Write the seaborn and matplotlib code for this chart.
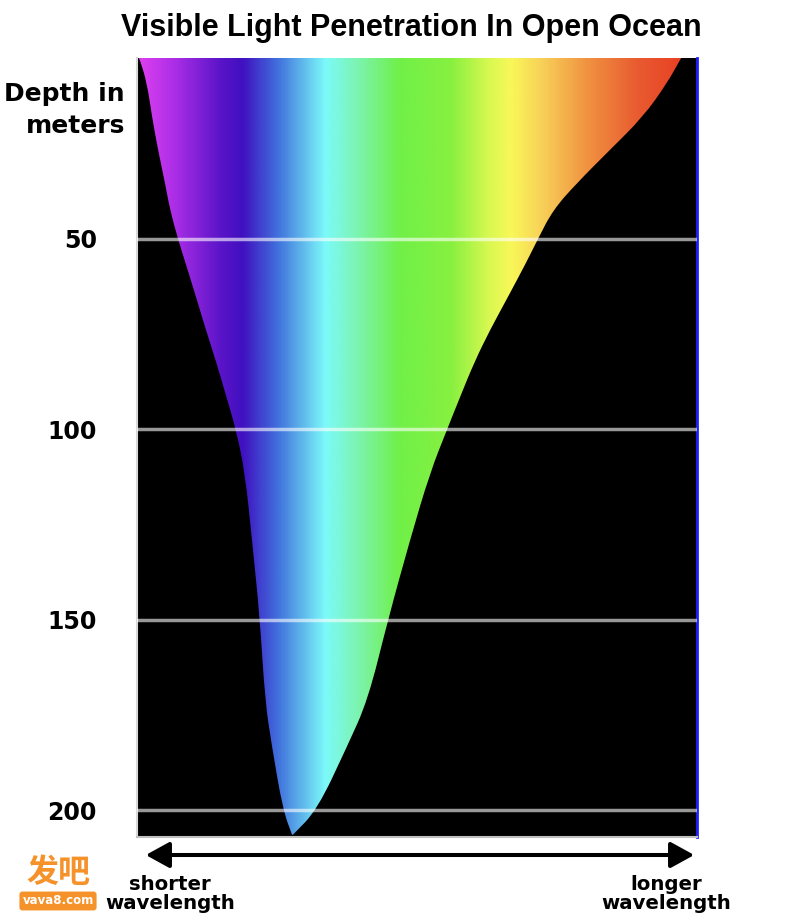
import numpy as np
import matplotlib
matplotlib.use("Agg")
import matplotlib.pyplot as plt
import seaborn as sns
from matplotlib.colors import LinearSegmentedColormap
from matplotlib.patches import PathPatch, FancyArrowPatch
from matplotlib.path import Path

# depth (m) at which the edges of the light cone were read
depth_m = [2.5, 3.0, 9.1, 18.0, 26.6, 35.3, 42.4, 50, 56.3, 65.2, 73.9,
           82.5, 91.5, 100.1, 111.4, 129, 150, 171, 183.3, 199.9, 206.4]
# wavelength (nm) of the short- and long-wavelength edge at each depth
short_edge_nm = [380.9, 381.7, 385.7, 388.6, 392, 396, 398.9, 403.4, 407.7,
                 413.7, 419.4, 425.4, 431.1, 436.6, 441.7, 445.7, 450.3,
                 453.1, 457.1, 463.4, 468.6]
long_edge_nm = [691, 690.3, 682.9, 669.1, 650.3, 631.4, 617.7, 609.1, 602.3,
                592, 581.7, 572.6, 564.6, 557.1, 547.4, 536, 523.4, 512, 500,
                482.9, 469.1]

depth_ticks = [50, 100, 150, 200]
depth_labels = ["50", "100", "150", "200"]

# spectrum colours along the wavelength axis
spec_nm = [380, 398.9, 427.4, 440, 460, 487.4, 505, 530, 560, 580, 594,
           612, 638.9, 667.4, 700]
spec_colors = ["#e040f0", "#b030e8", "#5a14c8", "#4010c0", "#4070dc",
               "#7cfafa", "#7cf4b4", "#70f048", "#88f040", "#d4f850",
               "#f8f858", "#f8d058", "#f09040", "#e85a30", "#e83820"]

sns.set_theme(style="white")
plt.rcParams['font.family'] = ['DejaVu Sans']
plt.rcParams['text.color'] = 'black'
plt.rcParams['ytick.color'] = 'black'
plt.rcParams['ytick.labelcolor'] = 'black'

x_min, x_max = 380, 700
d_top, d_bot = 2.5, 207

fig = plt.figure(figsize=(8, 9.23), dpi=100)
ax = fig.add_axes([137/800, 1-837/923, 560/800, 779/923])
ax.set_facecolor("black")

cmap = LinearSegmentedColormap.from_list(
    "spectrum", [((w - x_min) / (x_max - x_min), c) for w, c in zip(spec_nm, spec_colors)])
xs = np.linspace(x_min, x_max, 800)
im = ax.imshow(xs[None, :], cmap=cmap, vmin=x_min, vmax=x_max, aspect="auto",
               extent=[x_min, x_max, d_bot, d_top], interpolation="bilinear", zorder=1)


def smooth_edge(pts):
    # read points used as quadratic Bezier control points
    verts = [pts[0], ((pts[0][0] + pts[1][0]) / 2, (pts[0][1] + pts[1][1]) / 2)]
    codes = [Path.LINETO, Path.LINETO]
    for i in range(1, len(pts) - 1):
        nxt = ((pts[i][0] + pts[i + 1][0]) / 2, (pts[i][1] + pts[i + 1][1]) / 2)
        verts += [pts[i], nxt]
        codes += [Path.CURVE3, Path.CURVE3]
    verts.append(pts[-1])
    codes.append(Path.LINETO)
    return verts, codes


left_pts = list(zip(short_edge_nm, depth_m))
right_pts = list(zip(long_edge_nm[::-1], depth_m[::-1]))
lv, lc = smooth_edge(left_pts)
rv, rc = smooth_edge(right_pts)
verts = lv + rv + [left_pts[0]]
codes = [Path.MOVETO] + lc[1:] + rc + [Path.CLOSEPOLY]
cone = PathPatch(Path(verts, codes), facecolor="none", edgecolor="none", transform=ax.transData)
ax.add_patch(cone)
im.set_clip_path(cone)

for d in depth_ticks:
    ax.axhline(d, color="white", alpha=0.6, lw=2.5, zorder=3)

ax.set_xlim(x_min, x_max)
ax.set_ylim(d_bot, d_top)
ax.set_xticks([])
ax.set_yticks(depth_ticks)
ax.set_yticklabels(depth_labels, fontsize=17, fontweight="bold", color="black")
ax.tick_params(axis="y", length=0, pad=29)

ax.spines["top"].set_visible(False)
ax.spines["left"].set_color("#d8d8d8")
ax.spines["left"].set_linewidth(1.5)
ax.spines["bottom"].set_color("#c0c0c0")
ax.spines["bottom"].set_linewidth(1.5)
ax.spines["right"].set_color("#2020ff")
ax.spines["right"].set_linewidth(2)

fig.text(411/800, 1-28/923, "Visible Light Penetration In Open Ocean",
         ha="center", va="center", fontsize=22, fontweight="bold",
         family=["Liberation Sans Narrow", "Liberation Sans", "DejaVu Sans"])
fig.text(125/800, 1-110/923, "Depth in\nmeters", ha="right", va="center",
         fontsize=18, fontweight="bold", linespacing=1.4)

arrow = FancyArrowPatch((143/800, 1-855/923), (697/800, 1-855/923),
                        transform=fig.transFigure,
                        arrowstyle="<|-|>,head_length=1.0,head_width=0.55",
                        mutation_scale=14.4, lw=2.9, color="black")
fig.patches.append(arrow)

fig.text(170/800, 1-894/923, "shorter\nwavelength", ha="center", va="center",
         fontsize=14.2, fontweight="bold", linespacing=1.0)
fig.text(666/800, 1-894/923, "longer\nwavelength", ha="center", va="center",
         fontsize=14.2, fontweight="bold", linespacing=1.0)

# watermark
fig.text(58/800, 1-873/923, "发吧", ha="center", va="center", fontsize=23,
         fontweight="bold", color="#f5922a",
         family=["Noto Sans CJK SC", "DejaVu Sans"])
fig.text(58/800, 1-901/923, "vava8.com", ha="center", va="center", fontsize=8.5,
         fontweight="bold", color="white",
         bbox=dict(boxstyle="round,pad=0.25", fc="#f5922a", ec="none"))

fig.savefig("out.png", dpi=100)
